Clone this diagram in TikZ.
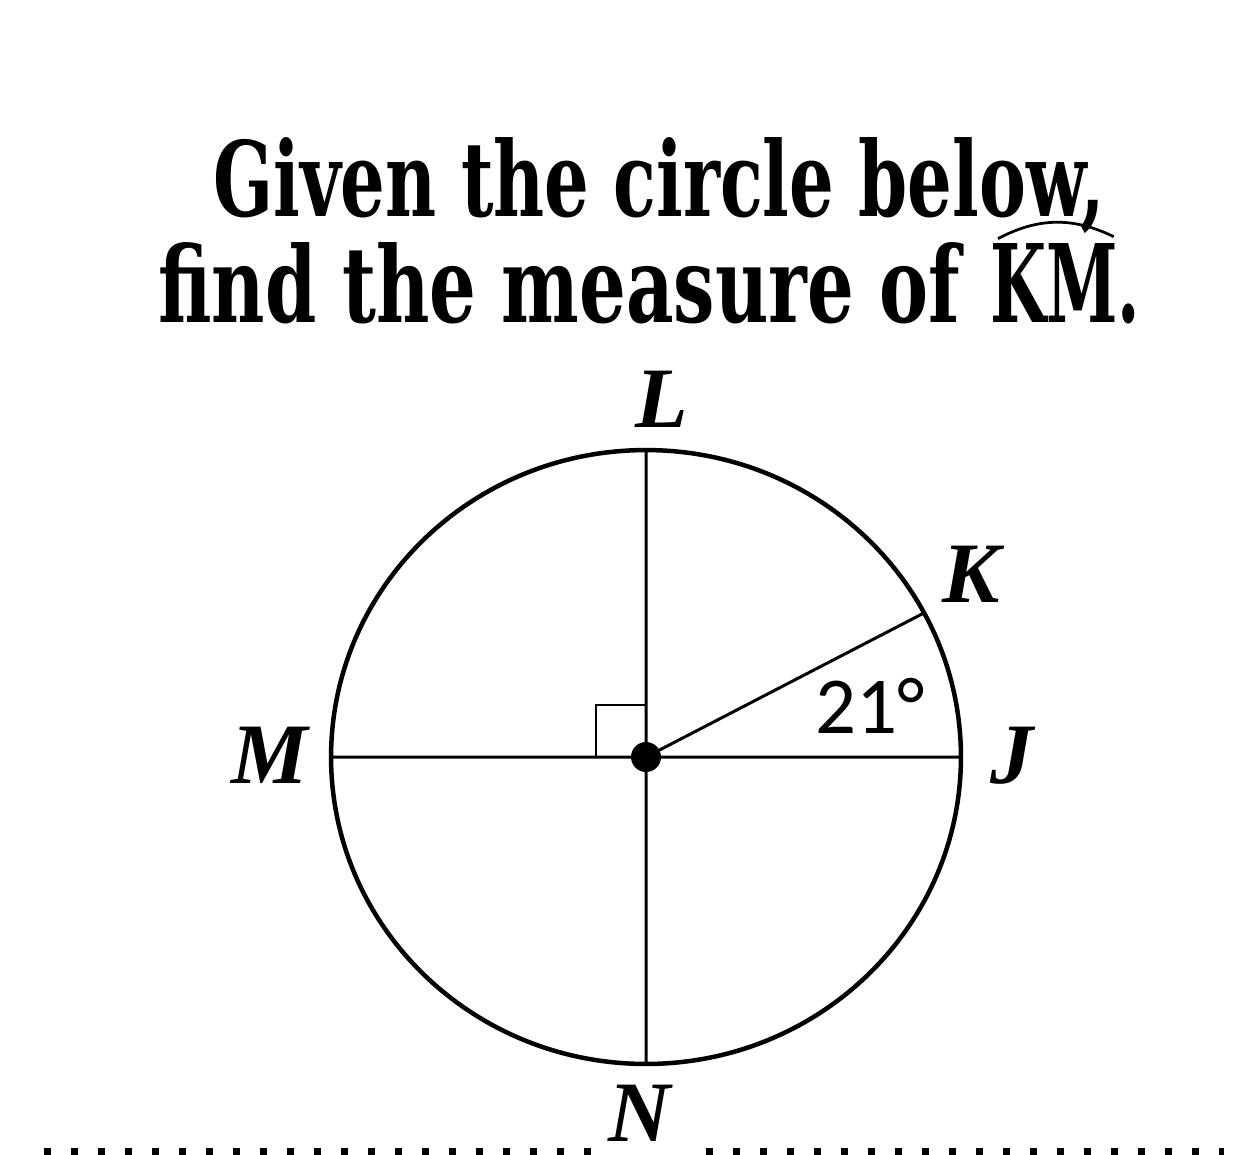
\documentclass[tikz,border=0pt]{standalone}
\usepackage{fontspec}
\usepackage{graphicx}
\usepackage{tikz}
\setmainfont{Liberation Serif}
\newfontfamily\titlefont{DejaVu Serif}
\newfontfamily\degfont{Carlito}
\usetikzlibrary{positioning}

\begin{document}
\begin{tikzpicture}[x=0.02cm, y=-0.02cm,
        rim/.style={line width=0.09cm},
        chord/.style={line width=0.06cm},
        ptname/.style={inner sep=0pt, anchor=base, font=\fontsize{49}{49}\selectfont\bfseries\itshape},
        heading/.style={inner sep=0pt, anchor=base west},
        fillin/.style={line width=0.15cm, dash pattern=on 0.14cm off 0.4cm}]
        \useasboundingbox (0,0) rectangle (1260,1154);

        \node[heading] (q1) at (213,216) {\resizebox{17.84cm}{1.58cm}{\titlefont\bfseries Given the circle below,}};
        \node[heading] (q2) at (158,322) {\resizebox{16.04cm}{1.6cm}{\titlefont\bfseries find the measure of}};
        \node[heading] (km) at (990,322) {\resizebox{3cm}{1.58cm}{\titlefont\bfseries KM.}};
        \draw[line width=0.055cm] ([xshift=0.16cm, yshift=0.08cm]km.north west) to[bend left=27] ([xshift=-0.54cm, yshift=0.12cm]km.north east);

        \coordinate (o) at (646,757);
        \coordinate (l) at (646,450);
        \coordinate (n) at (646,1064);
        \coordinate (m) at (331,757);
        \coordinate (j) at (961,757);
        \coordinate (k) at ({646+315*cos(28)}, {757-307*sin(28)});

        \draw[rim] (o) ellipse [x radius=6.3cm, y radius=6.14cm];
        \draw[chord] (m) -- (j)
            (l) -- (n)
            (o) -- (k);
        \draw[line width=0.045cm] ([xshift=-1cm]o) |- ([yshift=1.04cm]o);
        \fill (o) circle [radius=0.3cm];

        \node[ptname] (lblL) at (662,427) {L};
        \node[ptname] (lblK) at (971,602) {K};
        \node[ptname] (lblJ) at (1012,783) {J};
        \node[ptname] (lblM) at (270,783) {M};
        \node[ptname] (lblN) at (640,1141) {N};
        \node[inner sep=0pt, anchor=base west, font=\degfont\fontsize{46}{46}\selectfont] (ang) at (815,733) {21°};

        \coordinate (a) at (44,1152);
        \coordinate (b) at (592,1152);
        \coordinate (c) at (706,1152);
        \coordinate (d) at (1224,1152);
        \draw[fillin] (a) -- (b)
            (c) -- (d);
\end{tikzpicture}
\end{document}
